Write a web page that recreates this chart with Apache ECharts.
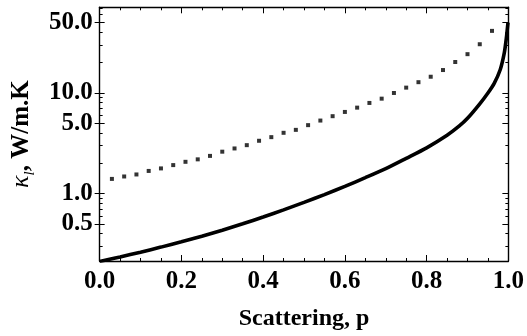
<!DOCTYPE html>
<html>
<head>
<meta charset="utf-8">
<script src="https://cdn.jsdelivr.net/npm/echarts@6/dist/echarts.min.js"></script>
<style>
html,body{margin:0;padding:0;background:#fff;}
#c{width:527px;height:336px;}
</style>
</head>
<body>
<div id="c"></div>
<script>
// ---- data ----
// solid curve: scattering p vs kappa_l (W/m.K)
const solidP = [0, 0.05, 0.10, 0.15, 0.20, 0.25, 0.30, 0.35, 0.40, 0.45, 0.50, 0.55, 0.60, 0.65, 0.70, 0.75, 0.80, 0.85, 0.88, 0.90, 0.93, 0.95, 0.965, 0.98, 0.99, 0.995, 0.999];
const solidK = [0.212, 0.235, 0.262, 0.294, 0.332, 0.377, 0.433, 0.501, 0.586, 0.690, 0.818, 0.978, 1.18, 1.44, 1.77, 2.24, 2.85, 3.80, 4.70, 5.60, 7.80, 10.0, 12.4, 17.0, 25.0, 35.0, 50.0];
// dotted series
const dotP = [0.03, 0.06, 0.09, 0.12, 0.15, 0.18, 0.21, 0.24, 0.27, 0.30, 0.33, 0.36, 0.39, 0.42, 0.45, 0.48, 0.51, 0.54, 0.57, 0.60, 0.63, 0.66, 0.69, 0.72, 0.75, 0.78, 0.81, 0.84, 0.87, 0.90, 0.93, 0.96];
const dotK = [1.40, 1.48, 1.55, 1.68, 1.78, 1.92, 2.07, 2.19, 2.37, 2.61, 2.81, 3.03, 3.35, 3.64, 4.02, 4.30, 4.79, 5.32, 5.88, 6.48, 7.15, 7.96, 8.78, 10.0, 11.3, 12.8, 14.5, 16.9, 20.3, 24.3, 30.5, 41.4];
// axes
const yMajorTicks = [0.5, 1, 5, 10, 50];
const yMajorLabels = ["0.5", "1.0", "5.0", "10.0", "50.0"];
const yMinorTicks = [0.3, 0.4, 0.6, 0.7, 0.8, 0.9, 2, 3, 4, 6, 7, 8, 9, 20, 30, 40, 60, 70];
const xTickLabels = ["0.0", "0.2", "0.4", "0.6", "0.8", "1.0"];
const yRange = [0.214, 71];

const L = Math.log10;
const FONT = 'Liberation Serif';
const majorLog = yMajorTicks.map(L);
const minorLog = yMinorTicks.map(L);
const black = '#000';

function yAx(opts) {
  return Object.assign({
    type: 'value', min: L(yRange[0]), max: L(yRange[1]),
    splitLine: {show: false}, minorSplitLine: {show: false},
    axisLine: {show: false},
    axisLabel: {show: false},
    axisTick: {show: false}
  }, opts);
}
function xAx(opts) {
  return Object.assign({
    type: 'value', min: 0, max: 1, interval: 0.2,
    splitLine: {show: false}, minorSplitLine: {show: false},
    axisLine: {show: true, onZero: false, lineStyle: {color: black, width: 1.4}},
    axisTick: {show: true, inside: true, length: 6, lineStyle: {color: black, width: 1}},
    minorTick: {show: true, splitNumber: 4, length: 3, lineStyle: {color: black, width: 1}},
    axisLabel: {show: false}
  }, opts);
}

const chart = echarts.init(document.getElementById('c'), null, {renderer: 'canvas'});
chart.setOption({
  animation: false,
  backgroundColor: '#fff',
  grid: {left: 96, right: 18.5, top: 7.3, bottom: 74.5, containLabel: false},
  xAxis: [
    xAx({
      position: 'bottom',
      axisLabel: {show: true, margin: 8, fontFamily: FONT, fontWeight: 'bold', fontSize: 25, color: black,
        formatter: function (v) { return xTickLabels[Math.round(v / 0.2)]; }},
      name: 'Scattering, p', nameLocation: 'middle', nameGap: 46,
      nameTextStyle: {fontFamily: FONT, fontWeight: 'bold', fontSize: 24, color: black}
    }),
    xAx({position: 'top'})
  ],
  yAxis: [
    yAx({
      position: 'left',
      axisLine: {show: true, onZero: false, lineStyle: {color: black, width: 1.4}},
      axisTick: {show: true, inside: false, length: 5, customValues: majorLog, lineStyle: {color: black, width: 1}},
      axisLabel: {show: true, margin: 7, customValues: majorLog, fontFamily: FONT, fontWeight: 'bold', fontSize: 25, color: black,
        formatter: function (v) {
          let best = 0;
          majorLog.forEach(function (m, i) { if (Math.abs(m - v) < Math.abs(majorLog[best] - v)) best = i; });
          return yMajorLabels[best];
        }},
      name: '{k|κ}{s|l}{n|, W/m.K}', nameLocation: 'middle', nameGap: 62, nameRotate: 90,
      nameTextStyle: {
        color: black,
        rich: {
          k: {fontFamily: FONT, fontStyle: 'italic', fontSize: 26, color: black, verticalAlign: 'bottom', lineHeight: 26},
          s: {fontFamily: FONT, fontStyle: 'italic', fontSize: 15, color: black, verticalAlign: 'bottom', lineHeight: 20, padding: [0, 0, -4, 0]},
          n: {fontFamily: FONT, fontWeight: 'bold', fontSize: 25, color: black, verticalAlign: 'bottom', lineHeight: 26}
        }
      }
    }),
    yAx({position: 'left', axisTick: {show: true, inside: true, length: 5, customValues: majorLog, lineStyle: {color: black, width: 1}}}),
    yAx({position: 'left', axisTick: {show: true, inside: true, length: 3, customValues: minorLog, lineStyle: {color: black, width: 1}}}),
    yAx({position: 'right',
      axisLine: {show: true, onZero: false, lineStyle: {color: black, width: 1.4}},
      axisTick: {show: true, inside: true, length: 6, customValues: majorLog, lineStyle: {color: black, width: 1}}}),
    yAx({position: 'right', axisTick: {show: true, inside: true, length: 3, customValues: minorLog, lineStyle: {color: black, width: 1}}})
  ],
  series: [
    {
      type: 'line', xAxisIndex: 0, yAxisIndex: 0,
      data: solidP.map(function (p, i) { return [p, L(solidK[i])]; }),
      showSymbol: false, smooth: 0.25,
      lineStyle: {color: black, width: 3.6}, z: 3
    },
    {
      type: 'scatter', xAxisIndex: 0, yAxisIndex: 0,
      data: dotP.map(function (p, i) { return [p, L(dotK[i])]; }),
      symbol: 'rect', symbolSize: 4,
      itemStyle: {color: black}, z: 3
    }
  ]
});
</script>
</body>
</html>
